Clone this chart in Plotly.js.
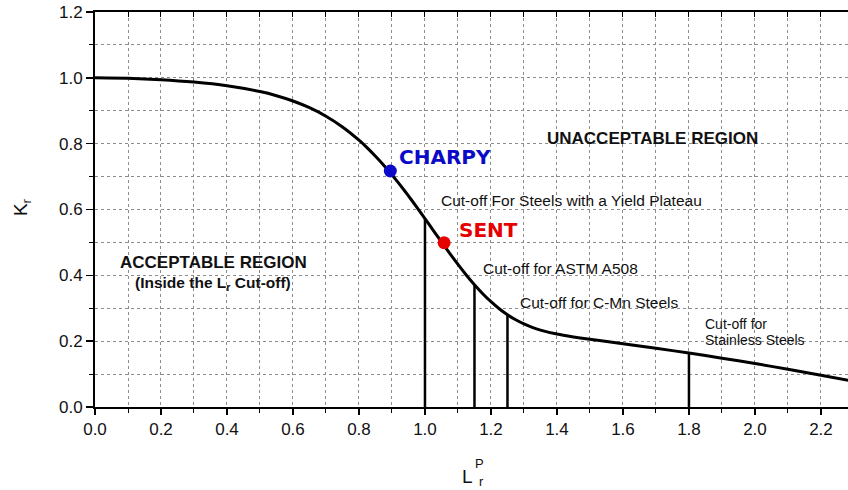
<!DOCTYPE html>
<html>
<head>
<meta charset="utf-8">
<script src="https://cdn.plot.ly/plotly-3.0.1.min.js"></script>
<style>html,body{margin:0;padding:0;background:#fff;}#chart{width:848px;height:490px;}</style>
</head>
<body>
<div id="chart"></div>
<script>
// Failure assessment curve
const lrValues = [0, 0.1, 0.2, 0.3, 0.4, 0.5, 0.55, 0.6, 0.65, 0.7, 0.75, 0.8, 0.825, 0.85, 0.875, 0.9, 0.925, 0.95, 0.975, 1.0, 1.025, 1.05, 1.075, 1.1, 1.125, 1.15, 1.175, 1.2, 1.225, 1.25, 1.275, 1.3, 1.325, 1.35, 1.4, 1.45, 1.5, 1.6, 1.7, 1.8, 1.9, 2.0, 2.1, 2.2, 2.3];
const krValues = [1.0, 0.9986, 0.9944, 0.9871, 0.9758, 0.9582, 0.9457, 0.9297, 0.9093, 0.8834, 0.8508, 0.8106, 0.7874, 0.7620, 0.7347, 0.7053, 0.6741, 0.6414, 0.6072, 0.5723, 0.5368, 0.5014, 0.4666, 0.4330, 0.4011, 0.3713, 0.3441, 0.3198, 0.2985, 0.2802, 0.2649, 0.2522, 0.2419, 0.2337, 0.2215, 0.2129, 0.2058, 0.1925, 0.1786, 0.1639, 0.1484, 0.1320, 0.1148, 0.0967, 0.0778];

// Cut-off lines
const cutoffLr = [1.0, 1.15, 1.25, 1.8];
const cutoffKr = [0.5723, 0.3713, 0.2802, 0.1639];

// Test points
const pointNames = ["CHARPY", "SENT"];
const pointLr = [0.895, 1.058];
const pointKr = [0.717, 0.499];
const pointColors = ["#0a0ac8", "#e60000"];

// Tick labels
const xTickVals = [0, 0.2, 0.4, 0.6, 0.8, 1.0, 1.2, 1.4, 1.6, 1.8, 2.0, 2.2];
const xTickText = ["0.0", "0.2", "0.4", "0.6", "0.8", "1.0", "1.2", "1.4", "1.6", "1.8", "2.0", "2.2"];
const yTickVals = [0, 0.2, 0.4, 0.6, 0.8, 1.0, 1.2];
const yTickText = ["0.0", "0.2", "0.4", "0.6", "0.8", "1.0", "1.2"];

// Region/cut-off labels
const labelTexts = ["UNACCEPTABLE REGION", "ACCEPTABLE REGION", "(Inside the L<sub>r</sub> Cut-off)",
  "Cut-off For Steels with a Yield Plateau", "Cut-off for ASTM A508", "Cut-off for C-Mn Steels",
  "Cut-off for", "Stainless Steels"];
const labelX = [1.688, 0.358, 0.357, 1.043, 1.169, 1.283, 1.842, 1.842];
const labelY = [0.816, 0.440, 0.374, 0.626, 0.421, 0.318, 0.252, 0.204];

const sans = "Liberation Sans, Arial, Helvetica, sans-serif";
const traces = [];
traces.push({x: lrValues, y: krValues, mode: 'lines', line: {color: '#000', width: 3, shape: 'spline', smoothing: 0.6}, showlegend: false, hoverinfo: 'skip'});
for (let i = 0; i < cutoffLr.length; i++) {
  traces.push({x: [cutoffLr[i], cutoffLr[i]], y: [0, cutoffKr[i]], mode: 'lines', line: {color: '#000', width: 2.5}, showlegend: false, hoverinfo: 'skip'});
}
for (let i = 0; i < pointNames.length; i++) {
  traces.push({x: [pointLr[i]], y: [pointKr[i]], mode: 'markers', marker: {color: pointColors[i], size: 13}, name: pointNames[i], showlegend: false});
}
// empty trace so the top (mirrored) tick axis is drawn
traces.push({x: [], y: [], xaxis: 'x2', yaxis: 'y', mode: 'lines', showlegend: false, hoverinfo: 'skip'});

const annotations = [];
const labelFonts = [
  {size: 17, weight: 'bold'}, {size: 17, weight: 'bold'}, {size: 15.5, weight: 'bold'},
  {size: 15.5}, {size: 15.5}, {size: 15.5}, {size: 14}, {size: 14}];
const labelAnchors = ['center', 'center', 'center', 'left', 'left', 'left', 'left', 'left'];
for (let i = 0; i < labelTexts.length; i++) {
  annotations.push({x: labelX[i], y: labelY[i], xref: 'x', yref: 'y', text: labelTexts[i], showarrow: false,
    xanchor: labelAnchors[i], yanchor: 'middle',
    font: {family: sans, size: labelFonts[i].size, weight: labelFonts[i].weight || 'normal', color: '#111'}});
}
const pointLabelX = [0.916, 1.098];
const pointLabelY = [0.760, 0.538];
for (let i = 0; i < pointNames.length; i++) {
  annotations.push({x: pointLabelX[i], y: pointLabelY[i], xref: 'x', yref: 'y', text: pointNames[i], showarrow: false,
    xanchor: 'left', yanchor: 'middle', font: {family: 'DejaVu Sans, Verdana, sans-serif', size: 20, weight: 'bold', color: pointColors[i]}});
}
// Axis titles
annotations.push({x: -0.097, y: 0.506, xref: 'paper', yref: 'paper', text: 'K<sub>r</sub>', showarrow: false, textangle: -90,
  xanchor: 'center', yanchor: 'middle', font: {family: sans, size: 19, color: '#111'}});
annotations.push({x: 0.4947, y: -0.176, xref: 'paper', yref: 'paper', text: 'L', showarrow: false,
  xanchor: 'center', yanchor: 'middle', font: {family: sans, size: 19, color: '#111'}});
annotations.push({x: 0.5106, y: -0.144, xref: 'paper', yref: 'paper', text: 'P', showarrow: false,
  xanchor: 'center', yanchor: 'middle', font: {family: sans, size: 13, color: '#111'}});
annotations.push({x: 0.5133, y: -0.1886, xref: 'paper', yref: 'paper', text: 'r', showarrow: false,
  xanchor: 'center', yanchor: 'middle', font: {family: sans, size: 13, color: '#111'}});

const gridColor = '#8c8c8c';
const layout = {
  width: 848, height: 490,
  margin: {l: 95, r: 0, t: 12, b: 83, pad: 0},
  paper_bgcolor: '#fff', plot_bgcolor: '#fff',
  font: {family: sans, color: '#111'},
  xaxis: {
    range: [0, 2.282], tickmode: 'array', tickvals: xTickVals, ticktext: xTickText,
    ticks: 'outside', ticklen: 6, tickwidth: 1.5, tickcolor: '#000',
    showline: true, linecolor: '#000', linewidth: 2, mirror: true,
    showgrid: true, gridcolor: gridColor, griddash: 'dot', gridwidth: 1,
    zeroline: false, tickfont: {size: 17, color: '#111'},
    minor: {dtick: 0.1, tick0: 0, ticks: 'outside', ticklen: 4, tickwidth: 1, tickcolor: '#000',
      showgrid: true, gridcolor: gridColor, griddash: 'dot', gridwidth: 1}
  },
  xaxis2: {
    range: [0, 2.282], overlaying: 'x', side: 'top', anchor: 'y',
    tickmode: 'linear', tick0: 0, dtick: 0.1, ticks: 'inside', ticklen: 5, tickwidth: 1, tickcolor: '#000',
    showticklabels: false, showgrid: false, showline: false, zeroline: false
  },
  yaxis: {
    range: [0, 1.2], tickmode: 'array', tickvals: yTickVals, ticktext: yTickText,
    ticks: 'outside', ticklen: 7, tickwidth: 1.5, tickcolor: '#000',
    showline: true, linecolor: '#000', linewidth: 2,
    showgrid: true, gridcolor: gridColor, griddash: 'dot', gridwidth: 1,
    zeroline: false, tickfont: {size: 17, color: '#111'},
    minor: {dtick: 0.1, tick0: 0, ticks: 'outside', ticklen: 4, tickwidth: 1, tickcolor: '#000',
      showgrid: true, gridcolor: gridColor, griddash: 'dot', gridwidth: 1}
  },
  annotations: annotations,
  showlegend: false
};
Plotly.newPlot('chart', traces, layout, {displayModeBar: false, staticPlot: true});
</script>
</body>
</html>
